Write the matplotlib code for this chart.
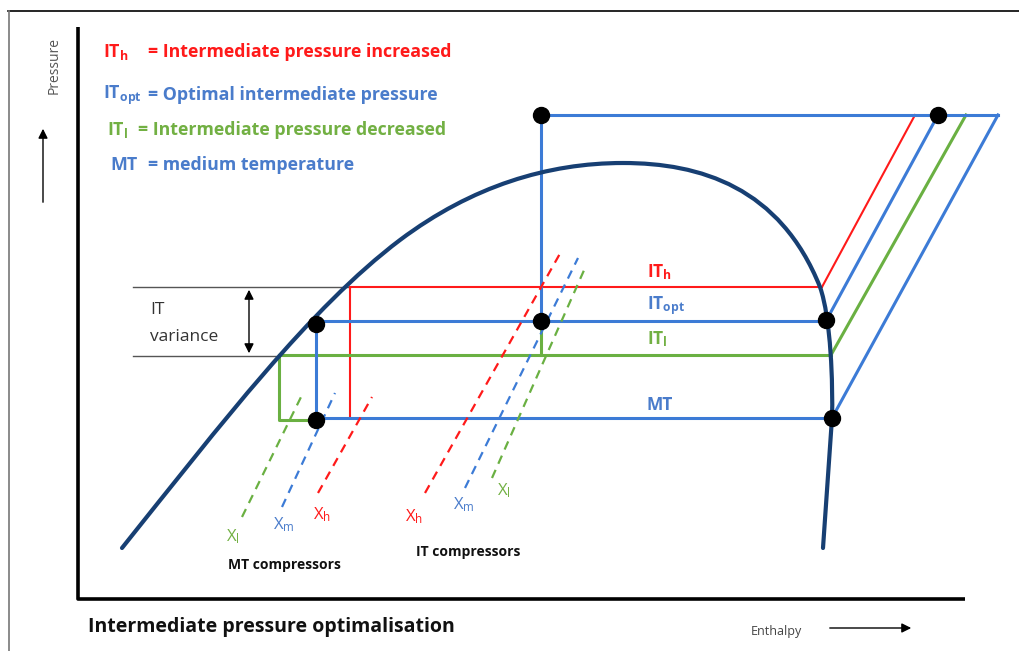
import matplotlib
matplotlib.use('Agg')
import matplotlib.pyplot as plt
from matplotlib.path import Path
from matplotlib.patches import PathPatch

plt.rcParams['font.family'] = ['Open Sans', 'DejaVu Sans']
plt.rcParams['mathtext.fontset'] = 'custom'
plt.rcParams['mathtext.rm'] = 'Open Sans'
plt.rcParams['mathtext.bf'] = 'Open Sans:bold'
plt.rcParams['mathtext.it'] = 'Open Sans:italic'

RED = '#FF1A1A'; BLUE = '#3C7BD6'; GREEN = '#6AB042'; NAVY = '#173F73'
TBLUE = '#4A7CCB'; TGREEN = '#72B043'

# saturation dome as bezier anchor/control points (enthalpy, pressure) in picture units
dome_h = [122, 222, 310, 400, 472, 548, 623, 700, 780, 820, 831, 833, 832, 823]
dome_p = [548, 423, 308, 240, 186, 163, 163, 163, 187, 287, 318, 385, 418, 548]
dome_codes = [Path.MOVETO] + [Path.CURVE4] * 12 + [Path.LINETO]

# pressure levels
p_high = 115
p_ith, p_itopt, p_itl, p_mt = 287, 321, 355, 418

# liquid-side enthalpies on each level and the flash point
h_liq_ith, h_liq_itopt, h_liq_itl = 350, 316, 279
h_flash = 541
# vapour-side enthalpies on each level
h_vap = {'ith': 822, 'itopt': 826, 'itl': 831, 'mt': 832}
# discharge enthalpies at high pressure
h_dis = {'ith': 915, 'itopt': 938, 'itl': 966, 'mt': 998}

# compressor dashed lines (start h, start p, end h, end p)
mt_comp = {'l': (242, 517, 302, 395), 'm': (282, 507, 335, 393), 'h': (318, 493, 372, 397)}
it_comp = {'h': (425, 493, 562, 250), 'm': (465, 488, 578, 258), 'l': (492, 478, 585, 268)}

fig = plt.figure(figsize=(10.19, 6.51), dpi=100)
ax = fig.add_axes([0, 0, 1, 1])
ax.set_xlim(0, 1019); ax.set_ylim(651, 0); ax.axis('off')

# frame
ax.plot([8, 1019], [11, 11], color='black', lw=1.2)
ax.plot([9, 9], [11, 651], color='#777777', lw=1.2)

# axes
ax.plot([78, 78, 965], [27, 599, 599], color='black', lw=2.6, solid_capstyle='butt')
ax.annotate('', xy=(43, 126), xytext=(43, 205),
            arrowprops=dict(arrowstyle='-|>', color='black', lw=1, mutation_scale=14))
ax.annotate('', xy=(914, 628), xytext=(827, 628),
            arrowprops=dict(arrowstyle='-|>', color='black', lw=1, mutation_scale=14))
ax.text(54, 66, 'Pressure', rotation=90, ha='center', va='center', fontsize=10, color='#555555')
ax.text(751, 631, 'Enthalpy', ha='left', va='center', fontsize=9, color='#444444')
ax.text(88, 627, 'Intermediate pressure optimalisation', ha='left', va='center',
        fontsize=14, fontweight='bold', color='#111111')

# dome
dome = Path(list(zip(dome_h, dome_p)), dome_codes)
ax.add_patch(PathPatch(dome, fill=False, edgecolor=NAVY, lw=3, capstyle='round', zorder=3))

# gray reference lines and IT variance
ax.plot([133, h_liq_ith], [p_ith, p_ith], color='#555555', lw=1)
ax.plot([133, h_liq_itl], [p_itl + 1, p_itl + 1], color='#555555', lw=1)
ax.annotate('', xy=(249, p_ith), xytext=(249, p_itl + 1),
            arrowprops=dict(arrowstyle='<|-|>', color='black', lw=1, mutation_scale=14))
ax.text(150, 310, 'IT', ha='left', va='center', fontsize=12.5, color='#333333')
ax.text(150, 337, 'variance', ha='left', va='center', fontsize=12.5, color='#333333')

# IT high (red)
ax.plot([h_liq_ith, h_vap['ith']], [p_ith, p_ith], color=RED, lw=1.5)
ax.plot([h_liq_ith, h_liq_ith], [p_ith, p_mt], color=RED, lw=1.5)
ax.plot([h_vap['ith'], h_dis['ith']], [p_ith, p_high], color=RED, lw=1.5)

# IT low (green)
ax.plot([h_liq_itl, h_vap['itl']], [p_itl, p_itl], color=GREEN, lw=2.2)
ax.plot([h_liq_itl, h_liq_itl, h_liq_itopt], [p_itl, p_mt + 2, p_mt + 2], color=GREEN, lw=2.2)
ax.plot([h_flash, h_flash], [p_itopt, p_itl], color=GREEN, lw=2.2)
ax.plot([h_vap['itl'], h_dis['itl']], [p_itl, p_high], color=GREEN, lw=2.2)

# IT optimal and MT (blue)
ax.plot([h_liq_itopt, h_vap['itopt']], [p_itopt, p_itopt], color=BLUE, lw=2.2)
ax.plot([h_liq_itopt, h_liq_itopt], [p_itopt, p_mt], color=BLUE, lw=2.2)
ax.plot([h_liq_itopt, h_vap['mt']], [p_mt, p_mt], color=BLUE, lw=2.2)
ax.plot([h_flash, h_flash, h_dis['mt']], [p_itopt, p_high, p_high], color=BLUE, lw=2.2)
ax.plot([h_vap['itopt'], h_dis['itopt']], [p_itopt, p_high], color=BLUE, lw=2.2)
ax.plot([h_vap['mt'], h_dis['mt']], [p_mt, p_high], color=BLUE, lw=2.2)

# compressor lines
cols = {'h': RED, 'm': BLUE, 'l': GREEN}
for grp in (mt_comp, it_comp):
    for k, (h0, p0, h1, p1) in grp.items():
        ax.plot([h0, h1], [p0, p1], color=cols[k], lw=1.6, ls=(0, (4, 3)), zorder=4)

# state points
dots_h = [h_flash, h_dis['itopt'], h_liq_itopt, h_flash, h_vap['itopt'], h_liq_itopt, h_vap['mt']]
dots_p = [p_high, p_high, p_itopt + 3, p_itopt, p_itopt - 1, p_mt + 2, p_mt]
ax.plot(dots_h, dots_p, 'o', color='black', ms=11.5, zorder=6)

def sub(x, y, main, s, color, size, bold=True, ha='left'):
    w = r'\mathbf' if bold else r'\mathrm'
    ax.text(x, y, r'$%s{%s}_{%s{%s}}$' % (w, main, w, s), color=color, fontsize=size,
            ha=ha, va='center')

# legend block
LS = 12.8
sub(103, 52, 'IT', 'h', RED, LS)
ax.text(148, 52, '= Intermediate pressure increased', color=RED, fontsize=LS,
        fontweight='bold', va='center')
sub(103, 95, 'IT', 'opt', TBLUE, LS)
ax.text(148, 95, '= Optimal intermediate pressure', color=TBLUE, fontsize=LS,
        fontweight='bold', va='center')
sub(107, 130, 'IT', 'l', TGREEN, LS)
ax.text(138, 130, '= Intermediate pressure decreased', color=TGREEN, fontsize=LS,
        fontweight='bold', va='center')
ax.text(110, 165, 'MT', color=TBLUE, fontsize=LS, fontweight='bold', va='center')
ax.text(148, 165, '= medium temperature', color=TBLUE, fontsize=LS,
        fontweight='bold', va='center')

# level labels
sub(647, 272, 'IT', 'h', RED, 12.5)
sub(647, 306, 'IT', 'opt', TBLUE, 12.5)
sub(647, 339, 'IT', 'l', TGREEN, 12.5)
ax.text(647, 405, 'MT', color=TBLUE, fontsize=12.5, fontweight='bold', va='center')

# compressor labels
sub(226, 537, 'X', 'l', TGREEN, 12, bold=False)
sub(273, 525, 'X', 'm', TBLUE, 12, bold=False)
sub(313, 515, 'X', 'h', RED, 12, bold=False)
sub(405, 517, 'X', 'h', RED, 12, bold=False)
sub(453, 505, 'X', 'm', TBLUE, 12, bold=False)
sub(497, 491, 'X', 'l', TGREEN, 12, bold=False)
ax.text(228, 565, 'MT compressors', fontsize=10, fontweight='bold', color='#111111', va='center')
ax.text(416, 552, 'IT compressors', fontsize=10, fontweight='bold', color='#111111', va='center')

fig.savefig('out.png', dpi=100)
plt.close(fig)
